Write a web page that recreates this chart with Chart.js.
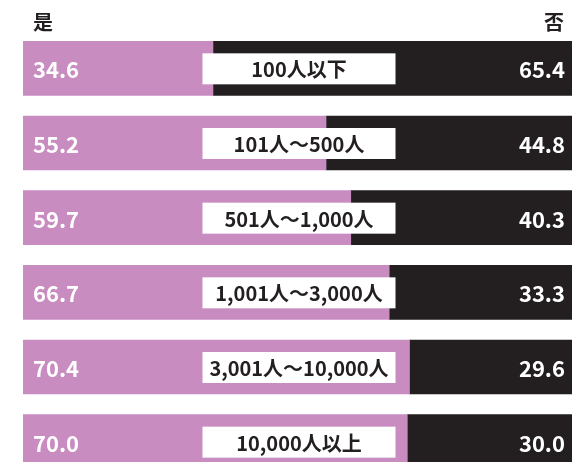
<!DOCTYPE html>
<html>
<head>
<meta charset="utf-8">
<script src="https://cdn.jsdelivr.net/npm/chart.js@4.4.1/dist/chart.umd.min.js"></script>
<style>
  html, body { margin: 0; padding: 0; background: #fff; overflow: hidden; }
  #wrap { position: relative; width: 572px; height: 490px; }
</style>
</head>
<body>
<div id="wrap"><canvas id="myChart"></canvas></div>
<script>
  // company size groups and share answering yes / no (%)
  const categories = ['100人以下', '101人～500人', '501人～1,000人', '1,001人～3,000人', '3,001人～10,000人', '10,000人以上']
  const yesValues = [34.6, 55.2, 59.7, 66.7, 70.4, 70.0]
  const noValues = [65.4, 44.8, 40.3, 33.3, 29.6, 30.0]
  const headerLabels = ['是', '否']

  const pink = '#c88cc0'
  const dark = '#231f20'
  const font = '"Noto Sans CJK JP", "Noto Sans CJK SC", sans-serif'

  // value at both ends, group name in a white box in the middle
  const barLabels = {
    id: 'barLabels',
    afterDatasetsDraw(chart) {
      const { ctx, chartArea } = chart
      const yesMeta = chart.getDatasetMeta(0)
      const midX = (chartArea.left + chartArea.right) / 2 + 1.5
      ctx.save()
      ctx.textBaseline = 'middle'
      yesMeta.data.forEach((bar, i) => {
        const y = bar.y
        ctx.font = 'bold 22px ' + font
        ctx.fillStyle = '#fff'
        ctx.textAlign = 'left'
        ctx.fillText(yesValues[i].toFixed(1), chartArea.left + 10, y + 1.5)
        ctx.textAlign = 'right'
        ctx.fillText(noValues[i].toFixed(1), chartArea.right - 7, y + 1.5)

        ctx.fillStyle = '#fff'
        ctx.fillRect(midX - 96.5, y - 15, 193, 31)
        ctx.fillStyle = dark
        ctx.textAlign = 'center'
        ctx.font = 'bold 20px ' + font
        ctx.fillText(categories[i], midX, y + 1.5)
      })
      // column headers
      ctx.fillStyle = dark
      ctx.font = 'bold 20px ' + font
      ctx.textAlign = 'left'
      ctx.fillText(headerLabels[0], chartArea.left + 10, 22)
      ctx.textAlign = 'right'
      ctx.fillText(headerLabels[1], chartArea.right - 8, 22)
      ctx.restore()
    }
  }

  const ctx = document.getElementById('myChart')

  const myChart = new Chart(ctx, {
    type: 'bar',
    data: {
      labels: categories,
      datasets: [{
        data: yesValues,
        backgroundColor: pink,
        borderWidth: 0,
        barThickness: 54
      }, {
        data: noValues,
        backgroundColor: dark,
        borderWidth: 0,
        barThickness: 54
      }]
    },
    options: {
      indexAxis: 'y',
      responsive: true,
      maintainAspectRatio: false,
      animation: false,
      layout: {
        padding: { left: 23, right: 0, top: 31, bottom: 11 }
      },
      scales: {
        x: { stacked: true, min: 0, max: 100, display: false },
        y: { stacked: true, display: false }
      },
      plugins: {
        legend: { display: false },
        tooltip: { enabled: false }
      }
    },
    plugins: [barLabels]
  })
</script>
</body>
</html>
